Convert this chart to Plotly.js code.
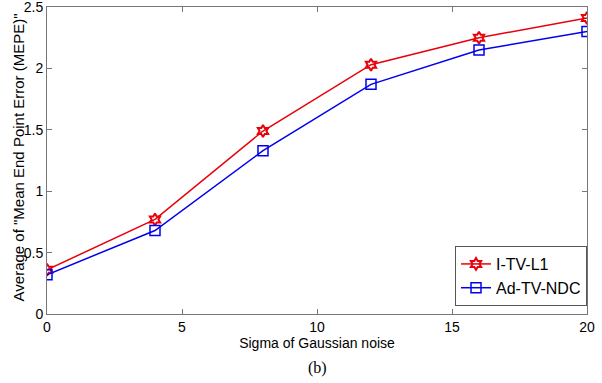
<!DOCTYPE html>
<html><head><meta charset="utf-8">
<script src="https://cdn.plot.ly/plotly-3.0.1.min.js"></script>
<style>html,body{margin:0;padding:0;background:#fff;}#chart{width:602px;height:383px;}</style>
</head><body><div id="chart"></div>
<script>
var sigma = [0, 4, 8, 12, 16, 20];
var itvl1 = [0.36, 0.77, 1.49, 2.03, 2.25, 2.41];
var adtvndc = [0.32, 0.68, 1.33, 1.87, 2.15, 2.30];
var seriesNames = ['I-TV-L1', 'Ad-TV-NDC'];
var xTicks = [0, 5, 10, 15, 20];
var yTicks = [0, 0.5, 1, 1.5, 2, 2.5];
var yTickText = ['0', '0.5', '1', '1.5', '2', '2.5'];

var traces = [
  {x: sigma, y: itvl1, name: seriesNames[0], mode: 'lines+markers', type: 'scatter',
   line: {color: '#e8000b', width: 1.5}, marker: {symbol: 'hexagram-open', size: 9, color: '#e8000b', line: {width: 2, color: '#e8000b'}}},
  {x: sigma, y: adtvndc, name: seriesNames[1], mode: 'lines+markers', type: 'scatter',
   line: {color: '#0000ee', width: 1.5}, marker: {symbol: 'square-open', size: 10, color: '#0000ee', line: {width: 1.5, color: '#0000ee'}}}
];
var layout = {
  width: 602, height: 383,
  margin: {l: 47, r: 15, t: 7, b: 69},
  paper_bgcolor: '#fff', plot_bgcolor: '#fff',
  font: {family: 'Liberation Sans, Arial, sans-serif', size: 14, color: '#000'},
  showlegend: true,
  legend: {x: 1.0, y: 0.026, xanchor: 'right', yanchor: 'bottom', bordercolor: '#555', borderwidth: 1, bgcolor: '#fff',
    font: {size: 16}, tracegroupgap: 0, itemwidth: 30},
  xaxis: {range: [0, 20], tickvals: xTicks, ticks: 'inside', ticklen: 5, tickcolor: '#777', showline: true, linecolor: '#777', mirror: 'ticks',
    showgrid: false, zeroline: false, title: {text: 'Sigma of Gaussian noise', font: {size: 14}, standoff: 4}, tickfont: {size: 14}},
  yaxis: {range: [0, 2.5], tickvals: yTicks, ticktext: yTickText, ticks: 'inside', ticklen: 5, tickcolor: '#777', showline: true, linecolor: '#777', mirror: 'ticks',
    showgrid: false, zeroline: false, ticklabeloverflow: 'allow', tickfont: {size: 14}},
  annotations: [
    {text: '(b)', xref: 'paper', yref: 'paper', x: 0.5, y: -0.176, yanchor: 'middle', showarrow: false,
     font: {family: 'Liberation Serif, Times New Roman, serif', size: 16}},
    {text: 'Average of "Mean End Point Error (MEPE)"', xref: 'paper', yref: 'paper', x: -0.0537, y: 0.51, xanchor: 'center', yanchor: 'middle',
     textangle: -90, showarrow: false, font: {size: 15}}
  ]
};
Plotly.newPlot('chart', traces, layout, {displayModeBar: false, staticPlot: true});
</script></body></html>
